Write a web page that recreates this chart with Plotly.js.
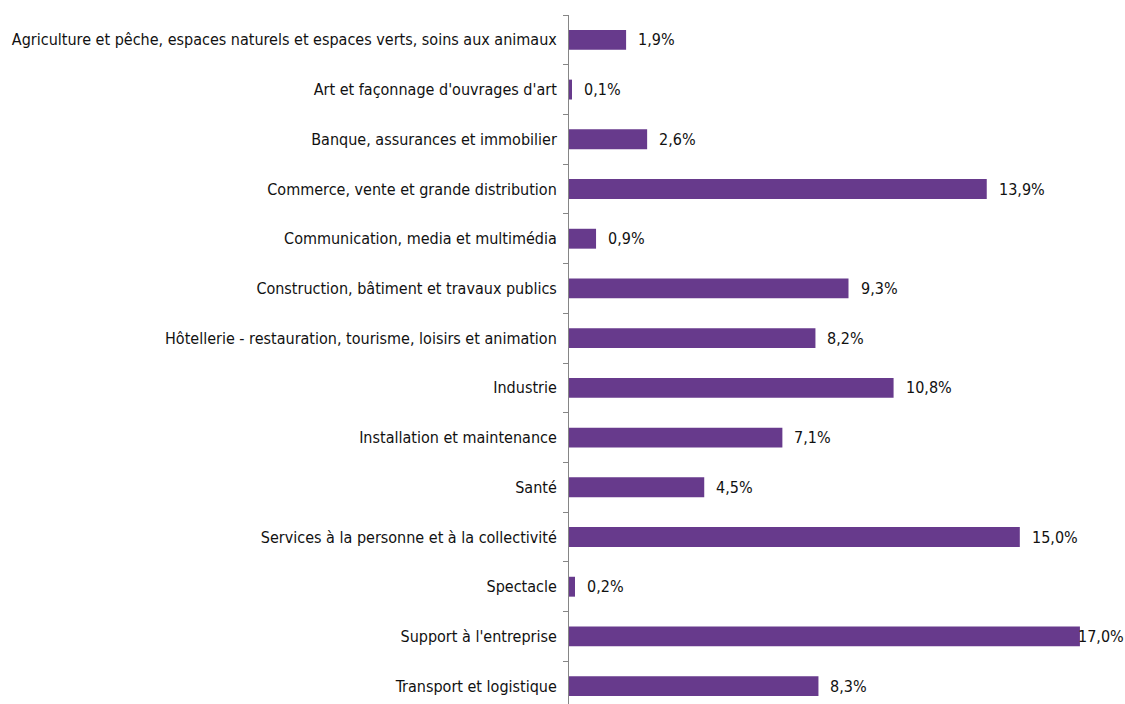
<!DOCTYPE html>
<html>
<head>
<meta charset="utf-8">
<script src="https://cdn.plot.ly/plotly-3.0.1.min.js"></script>
<style>
html,body{margin:0;padding:0;background:#fff;overflow:hidden;}
#chart{width:1125px;height:720px;}
</style>
</head>
<body>
<div id="chart"></div>
<script>
const categories = [
  "Agriculture et pêche, espaces naturels et espaces verts, soins aux animaux",
  "Art et façonnage d'ouvrages d'art",
  "Banque, assurances et immobilier",
  "Commerce, vente et grande distribution",
  "Communication, media et multimédia",
  "Construction, bâtiment et travaux publics",
  "Hôtellerie - restauration, tourisme, loisirs et animation",
  "Industrie",
  "Installation et maintenance",
  "Santé",
  "Services à la personne et à la collectivité",
  "Spectacle",
  "Support à l'entreprise",
  "Transport et logistique"
];
const values = [1.9, 0.1, 2.6, 13.9, 0.9, 9.3, 8.2, 10.8, 7.1, 4.5, 15.0, 0.2, 17.0, 8.3];
const valueLabels = values.map(v => v.toFixed(1).replace('.', ',') + '%');

const FONT = '"DejaVu Sans Condensed", "Liberation Sans Narrow", "Liberation Sans", sans-serif';
const TEXTCOLOR = '#111111';

const trace = {
  type: 'bar',
  orientation: 'h',
  x: values,
  y: categories,
  marker: {color: '#673A8C'},
  hoverinfo: 'none'
};

const annotations = values.map((v, i) => ({
  x: v,
  y: categories[i],
  xref: 'x',
  yref: 'y',
  text: valueLabels[i],
  showarrow: false,
  xanchor: 'left',
  yanchor: 'middle',
  xshift: v > 16.5 ? -4 : 10,
  font: {family: FONT, size: 16, color: TEXTCOLOR}
}));

const layout = {
  width: 1125,
  height: 720,
  margin: {l: 569, r: 0, t: 15, b: 9, pad: 0},
  paper_bgcolor: '#ffffff',
  plot_bgcolor: '#ffffff',
  showlegend: false,
  bargap: 0.6,
  xaxis: {
    range: [0, 18.5],
    visible: false,
    showgrid: false,
    zeroline: false,
    fixedrange: true
  },
  yaxis: {
    type: 'category',
    autorange: 'reversed',
    showline: true,
    linecolor: '#868686',
    linewidth: 1,
    ticks: 'outside',
    tickson: 'boundaries',
    ticklen: 5,
    tickcolor: '#868686',
    tickwidth: 1,
    ticklabelstandoff: 8,
    showgrid: false,
    zeroline: false,
    tickfont: {family: FONT, size: 16, color: TEXTCOLOR},
    fixedrange: true
  },
  annotations: annotations
};

Plotly.newPlot('chart', [trace], layout, {displayModeBar: false, staticPlot: true});
</script>
</body>
</html>
